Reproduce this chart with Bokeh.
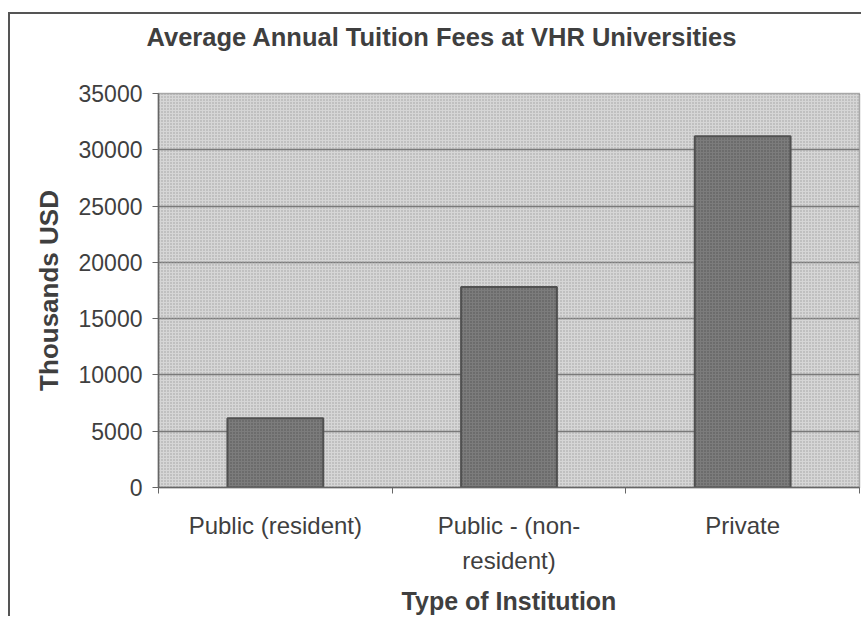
from bokeh.plotting import figure
from bokeh.models import FixedTicker, BoxAnnotation, Range1d
from bokeh.embed import file_html
from bokeh.resources import INLINE
import numpy as np

# Average annual tuition by institution type
categories = ["Public (resident)", "Public - (non-resident)", "Private"]
tick_labels = ["Public (resident)", "Public - (non-\nresident)", "Private"]
tuition = [6150, 17800, 31200]
y_ticks = [0, 5000, 10000, 15000, 20000, 25000, 30000, 35000]
title = "Average Annual Tuition Fees at VHR Universities"

FONT = "Liberation Sans"
TEXT = "#3f3f3f"

centers = np.arange(len(categories)) + 0.5
edges = np.arange(len(categories) + 1)

p = figure(
    width=853, height=604,
    x_range=Range1d(0, len(categories)),
    y_range=Range1d(0, 35000),
    output_backend="svg", toolbar_location=None,
    min_border_left=148, min_border_right=4, min_border_top=79, min_border_bottom=131,
)
# chart border on the left and top edges
p.styles = {
    "margin-left": "8px", "margin-top": "12px",
    "border-left": "2px solid #555555", "border-top": "2px solid #555555",
}

p.background_fill_color = "#d6d6d6"
p.border_fill_color = "white"
p.outline_line_color = "#666666"
p.outline_line_dash = "1 1"
p.outline_line_width = 1.5

# stippled plot-area texture
p.add_layout(BoxAnnotation(fill_alpha=0, line_color=None, hatch_pattern="dot",
                           hatch_scale=3, hatch_color="#a0a0a0", level="underlay"))

p.vbar(x=centers, top=tuition, width=0.41, bottom=0,
       fill_color="#7c7c7c", hatch_pattern="dot", hatch_scale=3, hatch_color="#555555",
       line_color="#505050", line_width=2)

# Title (a blank second line keeps it clear of the plot area)
p.title.text = title + "\n "
p.title.text_font = FONT
p.title.text_font_size = "25.5px"
p.title.text_font_style = "bold"
p.title.text_line_height = 1.3
p.title.text_color = TEXT
p.title.align = "left"
p.title.offset = -12
p.title.standoff = 12

# Y axis
ya = p.yaxis[0]
ya.ticker = FixedTicker(ticks=y_ticks)
ya.axis_label = "Thousands USD"
ya.axis_label_text_font = FONT
ya.axis_label_text_font_size = "26px"
ya.axis_label_text_font_style = "bold"
ya.axis_label_text_color = TEXT
ya.axis_label_standoff = 12
ya.major_label_text_font = FONT
ya.major_label_text_font_size = "23px"
ya.major_label_text_color = TEXT
ya.major_label_standoff = 10
ya.major_tick_out = 6
ya.major_tick_in = 0
ya.major_tick_line_color = "#666666"
ya.minor_tick_line_color = None
ya.axis_line_color = "#666666"
ya.axis_line_width = 1.5
ya.formatter.use_scientific = False

# X axis: category labels centred, tick marks at category boundaries
xa = p.xaxis[0]
xa.ticker = FixedTicker(ticks=list(centers), minor_ticks=list(edges))
xa.major_label_overrides = {float(c): t for c, t in zip(centers, tick_labels)}
xa.major_label_text_font = FONT
xa.major_label_text_font_size = "24px"
xa.major_label_text_color = TEXT
xa.major_label_text_line_height = 1.3
xa.major_label_standoff = 18
xa.major_tick_line_color = None
xa.minor_tick_line_color = "#666666"
xa.minor_tick_out = 6
xa.minor_tick_in = 0
xa.axis_line_color = "#666666"
xa.axis_line_width = 1.5
xa.axis_label = "Type of Institution"
xa.axis_label_text_font = FONT
xa.axis_label_text_font_size = "25px"
xa.axis_label_text_font_style = "bold"
xa.axis_label_text_color = TEXT
xa.axis_label_standoff = 10

p.xgrid.grid_line_color = None
p.ygrid.grid_line_color = "#7a7a7a"
p.ygrid.grid_line_width = 1.5

open("out.html", "w").write(file_html(p, INLINE))
